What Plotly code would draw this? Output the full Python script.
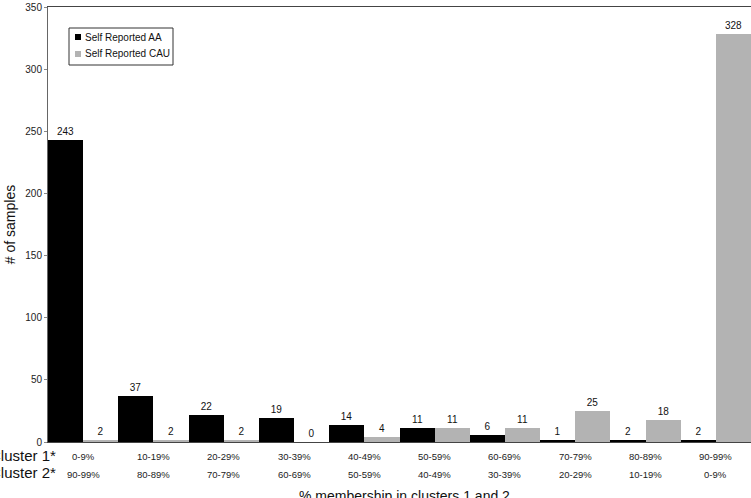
import plotly.graph_objects as go

cluster1 = ["0-9%", "10-19%", "20-29%", "30-39%", "40-49%", "50-59%", "60-69%", "70-79%", "80-89%", "90-99%"]
cluster2 = ["90-99%", "80-89%", "70-79%", "60-69%", "50-59%", "40-49%", "30-39%", "20-29%", "10-19%", "0-9%"]
aa = [243, 37, 22, 19, 14, 11, 6, 1, 2, 2]
cau = [2, 2, 2, 0, 4, 11, 11, 25, 18, 328]
series_names = ["Self Reported AA", "Self Reported CAU"]
series_colors = ["#000000", "#b3b3b3"]
yticks = [0, 50, 100, 150, 200, 250, 300, 350]

x = list(range(len(cluster1)))
font = "Liberation Sans, Arial, sans-serif"
W, H = 751, 498
L, R, T, B = 48, 0, 7, 56
pw, ph = W - L - R, H - T - B

def px(xp):
    return (xp - L) / pw

def py(yp):
    return (H - B - yp) / ph

fig = go.Figure()
for vals, name, col in zip([aa, cau], series_names, series_colors):
    fig.add_trace(go.Bar(x=x, y=vals, name=name, marker=dict(color=col, line=dict(width=0)),
                         text=[str(v) for v in vals], textposition="outside", cliponaxis=False,
                         textfont=dict(size=10, color="#111"), showlegend=False))

ann = []
for i, (a, b) in enumerate(zip(cluster1, cluster2)):
    ann.append(dict(x=i, y=0, xref="x", yref="paper", text=a, showarrow=False, yanchor="middle",
                    yshift=-14, font=dict(size=9.5, color="#222")))
    ann.append(dict(x=i, y=0, xref="x", yref="paper", text=b, showarrow=False, yanchor="middle",
                    yshift=-32, font=dict(size=9.5, color="#222")))
ann.append(dict(x=px(58), y=0, xref="paper", yref="paper", text="Cluster 1*", showarrow=False,
                xanchor="right", yanchor="middle", yshift=-13, font=dict(size=15, color="#111")))
ann.append(dict(x=px(58), y=0, xref="paper", yref="paper", text="Cluster 2*", showarrow=False,
                xanchor="right", yanchor="middle", yshift=-30, font=dict(size=15, color="#111")))
ann.append(dict(x=px(404), y=0, xref="paper", yref="paper", text="% membership in clusters 1 and 2",
                showarrow=False, xanchor="center", yanchor="middle", yshift=-54,
                font=dict(size=14, color="#111")))

# legend (drawn manually to match the compact original box)
shapes = [dict(type="rect", xref="paper", yref="paper", x0=px(69), x1=px(173), y0=py(65), y1=py(28),
               line=dict(color="#333", width=1), fillcolor="white", layer="above")]
for k, (name, col) in enumerate(zip(series_names, series_colors)):
    yc = 37 + k * 17
    shapes.append(dict(type="rect", xref="paper", yref="paper", x0=px(75), x1=px(81),
                       y0=py(yc + 3), y1=py(yc - 3), line=dict(width=0), fillcolor=col, layer="above"))
    ann.append(dict(x=px(83), y=py(yc), xref="paper", yref="paper", text=name, showarrow=False,
                    xanchor="left", yanchor="middle", font=dict(size=10, color="#111")))

fig.update_layout(
    width=W, height=H,
    margin=dict(l=L, r=R, t=T, b=B),
    paper_bgcolor="white", plot_bgcolor="white",
    barmode="group", bargap=0, bargroupgap=0,
    font=dict(family=font, size=10, color="#222"),
    showlegend=False,
    annotations=ann, shapes=shapes,
    xaxis=dict(range=[-0.5, 9.5], showticklabels=False, ticks="", showgrid=False,
               showline=True, linecolor="#444", linewidth=1, mirror=True, zeroline=False),
    yaxis=dict(range=[0, 350], tickvals=yticks, ticks="outside", ticklen=3, tickcolor="#888",
               showgrid=False, showline=True, linecolor="#666", linewidth=1, zeroline=False,
               tickfont=dict(size=10, color="#222"),
               title=dict(text="# of samples", font=dict(size=14, color="#111"), standoff=6)),
)
fig.write_html("out.html")
